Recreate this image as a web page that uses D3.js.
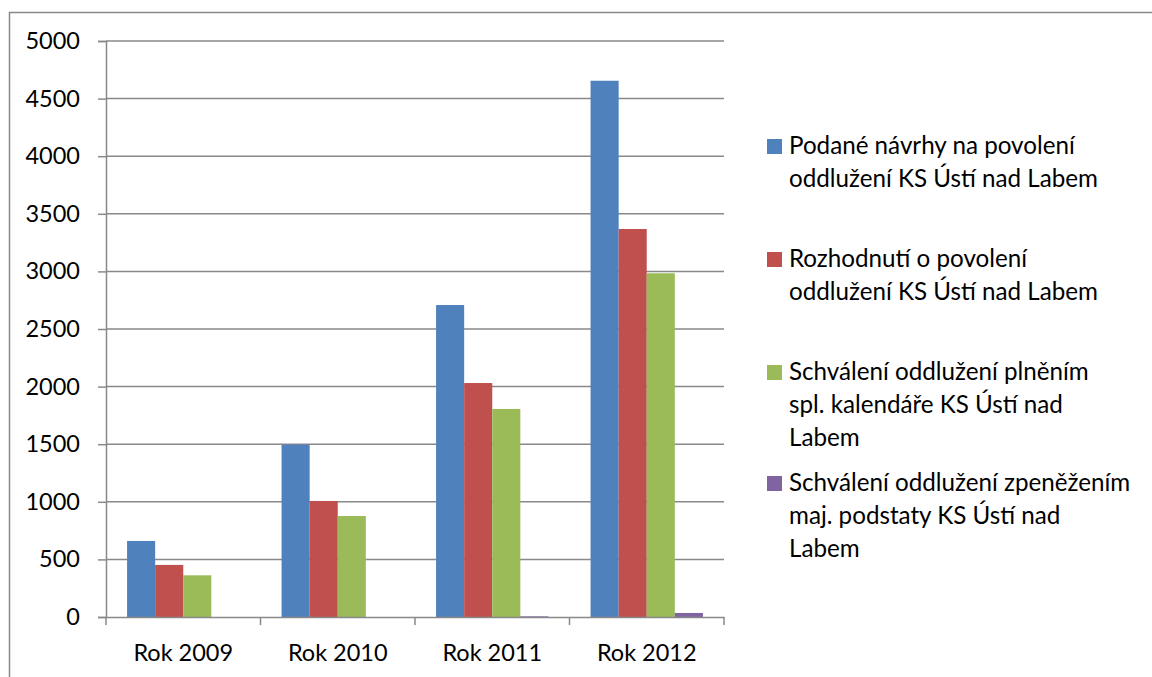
<!DOCTYPE html>
<html><head><meta charset="utf-8">
<script src="https://cdn.jsdelivr.net/npm/d3@7"></script>
<style>body{margin:0;background:#fff}svg{display:block}text{font-family:Lato,"Open Sans",sans-serif;fill:#000}</style>
</head><body>
<svg id="c" width="1152" height="677"></svg>
<script>
const categories = ["Rok 2009","Rok 2010","Rok 2011","Rok 2012"];
const seriesNames = [
  ["Podané návrhy na povolení","oddlužení KS Ústí nad Labem"],
  ["Rozhodnutí o povolení","oddlužení KS Ústí nad Labem"],
  ["Schválení oddlužení plněním","spl. kalendáře KS Ústí nad","Labem"],
  ["Schválení oddlužení zpeněžením","maj. podstaty KS Ústí nad","Labem"]
];
const podane = [660, 1497, 2708, 4655];
const rozhodnuti = [452, 1007, 2031, 3368];
const splatkovy = [362, 877, 1806, 2984];
const zpenezeni = [0, 0, 6, 35];
const yTicks = [0,500,1000,1500,2000,2500,3000,3500,4000,4500,5000];
const colors = ["#4F81BD","#C0504D","#9BBB59","#8064A2"];
const series = [podane, rozhodnuti, splatkovy, zpenezeni];

const svg = d3.select("#c");
svg.append("rect").attr("x",9.5).attr("y",12.5).attr("width",1160).attr("height",700)
  .attr("fill","none").attr("stroke","#898989").attr("stroke-width",1.5);

const x0 = d3.scaleBand().domain(categories).range([106,724]).paddingInner(0).paddingOuter(0);
const x1 = d3.scaleBand().domain(d3.range(4)).range([0, x0.bandwidth()]).paddingInner(0).paddingOuter(0.75);
const y = d3.scaleLinear().domain([0,5000]).range([617,41]);

// gridlines
svg.append("g").selectAll("line").data(yTicks.slice(1)).join("line")
  .attr("x1",106).attr("x2",724).attr("y1",d=>y(d)).attr("y2",d=>y(d))
  .attr("stroke","#898989").attr("stroke-width",1.5);

// y axis
const ya = svg.append("g").attr("transform","translate(106,0)")
  .call(d3.axisLeft(y).tickValues(yTicks).tickSize(8).tickPadding(18).tickFormat(d3.format("d")));
ya.select(".domain").attr("stroke","#898989").attr("stroke-width",1.5);
ya.selectAll(".tick line").attr("stroke","#898989").attr("stroke-width",1.5);
ya.selectAll("text").attr("font-size",23.5).attr("font-family","Lato").attr("fill","#000");

// bars
const g = svg.append("g");
categories.forEach((c,ci)=>{
  series.forEach((s,si)=>{
    const v = s[ci];
    if (v <= 0) return;
    g.append("rect").attr("x",x0(c)+x1(si)).attr("width",x1.bandwidth())
      .attr("y",y(v)).attr("height",y(0)-y(v)).attr("fill",colors[si]);
  });
});

// x axis
const xa = svg.append("g").attr("transform","translate(0,617)")
  .call(d3.axisBottom(x0).tickSize(0).tickPadding(27));
xa.select(".domain").attr("stroke","#898989").attr("stroke-width",1.5);
xa.selectAll("text").attr("font-size",23.5).attr("font-family","Lato").attr("fill","#000");
svg.append("g").selectAll("line").data(categories.map(c=>x0(c)).concat([724])).join("line")
  .attr("x1",d=>d).attr("x2",d=>d).attr("y1",617).attr("y2",625)
  .attr("stroke","#898989").attr("stroke-width",1.5);

// legend
const legTop = [146, 259, 372, 483];
const lg = svg.append("g");
seriesNames.forEach((lines,i)=>{
  lg.append("rect").attr("x",767).attr("y",legTop[i]-7).attr("width",15).attr("height",15).attr("fill",colors[i]);
  lines.forEach((t,j)=>{
    lg.append("text").attr("x",789).attr("y",legTop[i]+j*32.7).attr("dy","0.35em")
      .attr("font-size",24.2).text(t);
  });
});
</script>
</body></html>
